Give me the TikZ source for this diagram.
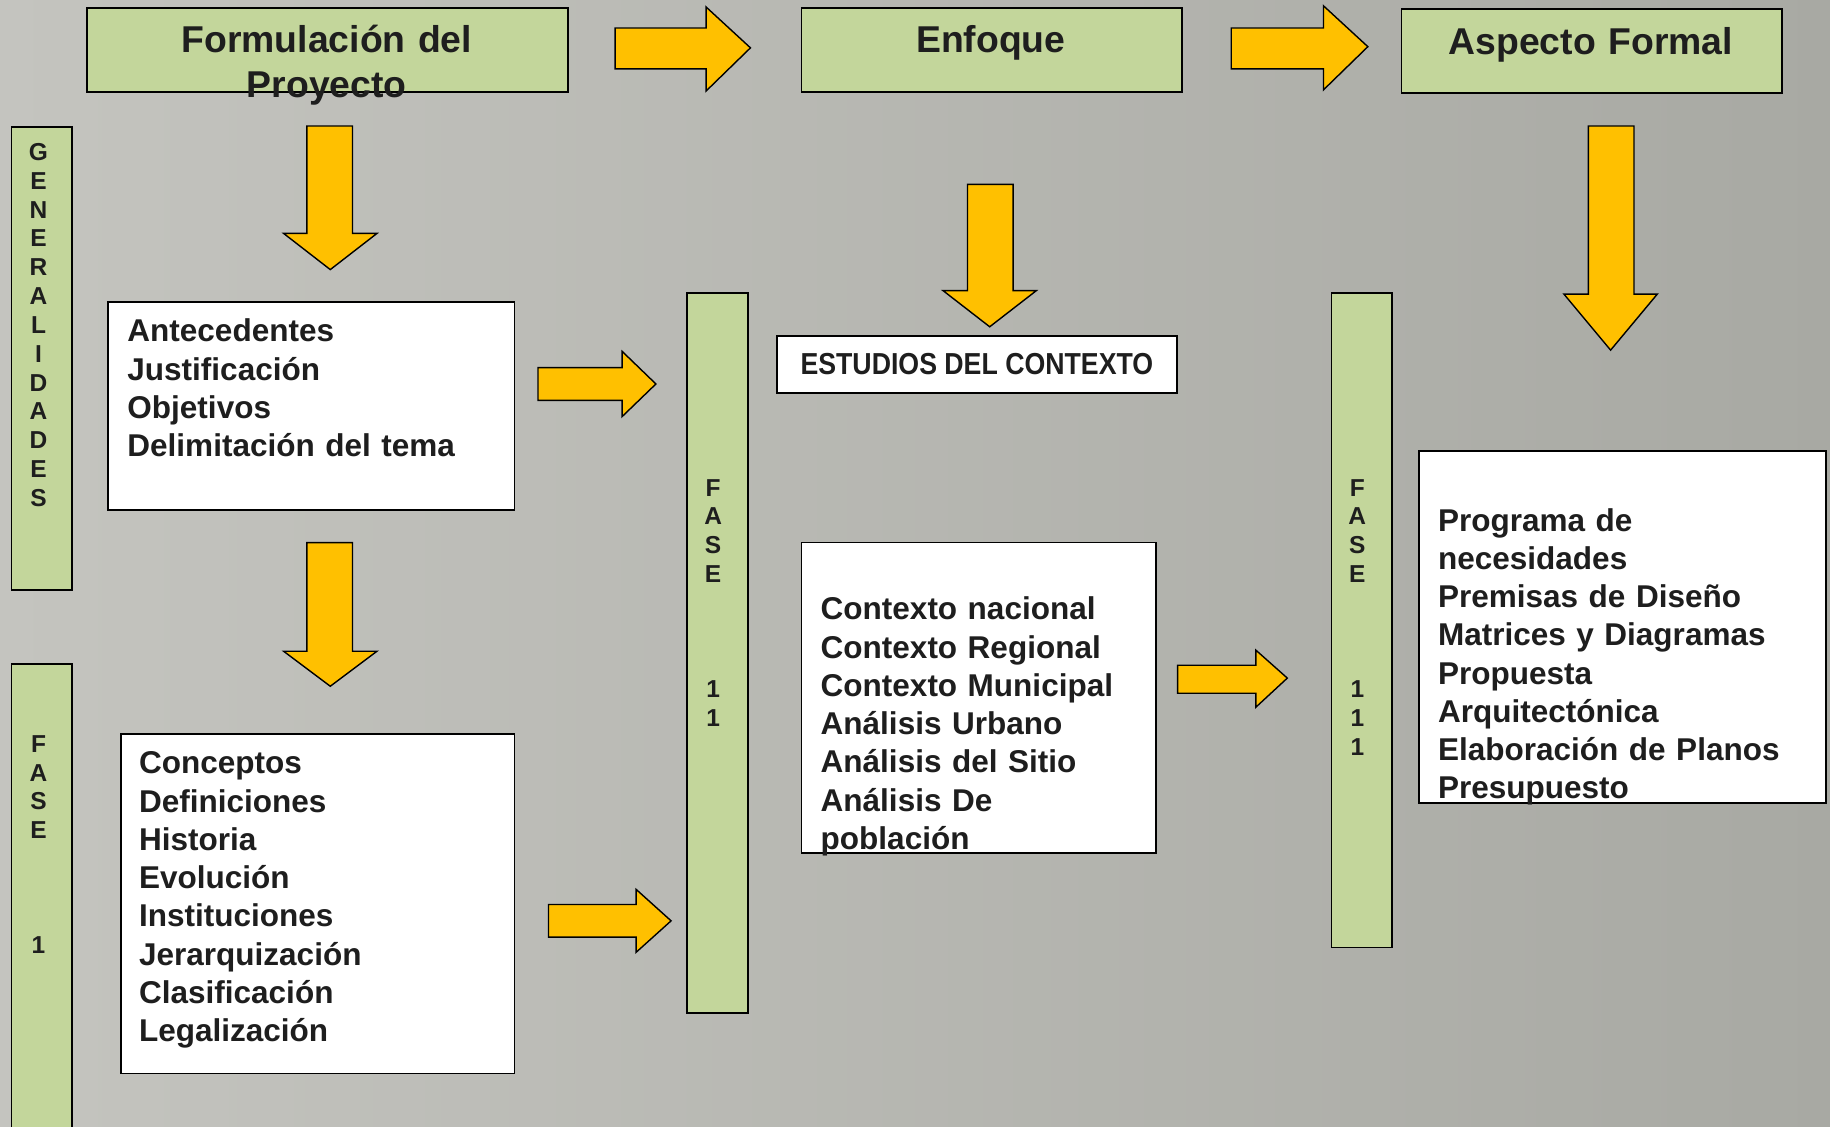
\documentclass[tikz,border=0pt]{standalone}
\usepackage{fontspec}
\setmainfont{Liberation Sans}
\newfontfamily\estrecha[FakeStretch=0.88]{Liberation Sans}

\definecolor{verdeclaro}{HTML}{C3D69B}
\definecolor{naranja}{HTML}{FFC000}
\definecolor{fondoizq}{RGB}{196,196,191}
\definecolor{fondoder}{RGB}{168,169,163}
\definecolor{tinta}{RGB}{30,30,30}

\tikzset{
  cajaverde/.style={draw=black, line width=1.5pt, fill=verdeclaro, anchor=north west, inner sep=0pt},
  cajablanca/.style={draw=black, line width=1.5pt, fill=white, anchor=north west, inner sep=0pt},
  titulo/.style={font=\bfseries\fontsize{32}{38.5}\selectfont, text=tinta, align=center, text width=400pt, inner sep=0pt, anchor=base},
  lista/.style={font=\bfseries\fontsize{27}{32.8}\selectfont, text=tinta, align=left, text width=340pt, inner sep=0pt, anchor=base west},
  letras/.style={font=\bfseries\fontsize{21}{24.7}\selectfont, text=tinta, align=center, text width=24pt, inner sep=0pt, anchor=base},
  flecha/.style={draw=black, line width=1.2pt, fill=naranja, line join=miter}
}

\begin{document}
\begin{tikzpicture}[x=1pt, y=-1pt]
    \useasboundingbox (0,0) rectangle (1568,965);
    % fondo
    \shade[left color=fondoizq, right color=fondoder] (0,0) rectangle (1568,965);

    % encabezados
    \node[cajaverde, minimum width=412pt, minimum height=72pt] (formulacion) at (74,6) {};
    \node[titulo] (formulaciontxt) at (280,44.8) {Formulación del\\Proyecto};
    \node[cajaverde, minimum width=326pt, minimum height=72pt] (enfoque) at (686,6) {};
    \node[titulo] (enfoquetxt) at (849,45) {Enfoque};
    \node[cajaverde, minimum width=326pt, minimum height=72pt] (aspecto) at (1200,7) {};
    \node[titulo] (aspectotxt) at (1363,47) {Aspecto Formal};

    % barras verticales
    \node[cajaverde, minimum width=52pt, minimum height=397pt] (generalidades) at (9,108) {};
    \node[letras] (generalidadestxt) at (33,137.5) {G\\E\\N\\E\\R\\A\\L\\I\\D\\A\\D\\E\\S};
    \node[cajaverde, minimum width=52pt, minimum height=410pt] (faseuno) at (9,568) {};
    \node[letras] (faseunotxt) at (33,644.5) {F\\A\\S\\E\\\mbox{}\\\mbox{}\\\mbox{}\\1};
    \node[cajaverde, minimum width=52pt, minimum height=617pt] (fasedos) at (588,250) {};
    \node[letras] (fasedostxt) at (611,425) {F\\A\\S\\E\\\mbox{}\\\mbox{}\\\mbox{}\\1\\1};
    \node[cajaverde, minimum width=52pt, minimum height=561pt] (fasetres) at (1140,250) {};
    \node[letras] (fasetrestxt) at (1163,425) {F\\A\\S\\E\\\mbox{}\\\mbox{}\\\mbox{}\\1\\1\\1};

    % cajas de contenido
    \node[cajablanca, minimum width=348pt, minimum height=178pt] (antecedentes) at (92,258) {};
    \node[lista] (antecedentestxt) at (109,293) {Antecedentes\\Justificación\\Objetivos\\Delimitación del tema};
    \node[cajablanca, minimum width=337pt, minimum height=291pt] (conceptos) at (103,628) {};
    \node[lista] (conceptostxt) at (119,663) {Conceptos\\Definiciones\\Historia\\Evolución\\Instituciones\\Jerarquización\\Clasificación\\Legalización};
    \node[cajablanca, minimum width=343pt, minimum height=49pt] (estudios) at (665,287) {};
    \node[font=\estrecha\bfseries\fontsize{26}{30}\selectfont, text=tinta, inner sep=0pt, anchor=base] (estudiostxt) at (837,321.3) {ESTUDIOS DEL CONTEXTO};
    \node[cajablanca, minimum width=304pt, minimum height=266pt] (contexto) at (686,464) {};
    \node[lista] (contextotxt) at (703,531) {Contexto nacional\\Contexto Regional\\Contexto Municipal\\Análisis Urbano\\Análisis del Sitio\\Análisis De\\población};
    \node[cajablanca, minimum width=349pt, minimum height=301pt] (programa) at (1215,386) {};
    \node[lista] (programatxt) at (1232,455) {Programa de\\necesidades\\Premisas de Diseño\\Matrices y Diagramas\\Propuesta\\Arquitectónica\\Elaboración de Planos\\Presupuesto};

    % flechas hacia la derecha
    \draw[flecha] (527,24) -- (605,24) -- (605,6) -- (643,41) -- (605,78) -- (605,59) -- (527,59) -- cycle;
    \draw[flecha] (1055,24) -- (1134,24) -- (1134,5) -- (1172,40) -- (1134,77) -- (1134,59) -- (1055,59) -- cycle;
    \draw[flecha] (461,315) -- (533,315) -- (533,301) -- (562,329) -- (533,357) -- (533,343) -- (461,343) -- cycle;
    \draw[flecha] (470,775) -- (545,775) -- (545,762) -- (575,789) -- (545,816) -- (545,803) -- (470,803) -- cycle;
    \draw[flecha] (1009,570) -- (1076,570) -- (1076,557) -- (1103,581) -- (1076,606) -- (1076,594) -- (1009,594) -- cycle;

    % flechas hacia abajo
    \draw[flecha] (263,108) -- (263,200) -- (243,200) -- (283,231) -- (323,200) -- (302,200) -- (302,108) -- cycle;
    \draw[flecha] (263,465) -- (263,558) -- (243,558) -- (283,588) -- (323,558) -- (302,558) -- (302,465) -- cycle;
    \draw[flecha] (829,158) -- (829,249) -- (808,249) -- (848,280) -- (888,249) -- (868,249) -- (868,158) -- cycle;
    \draw[flecha] (1361,108) -- (1361,252) -- (1340,252) -- (1380,300) -- (1420,252) -- (1400,252) -- (1400,108) -- cycle;
\end{tikzpicture}
\end{document}
